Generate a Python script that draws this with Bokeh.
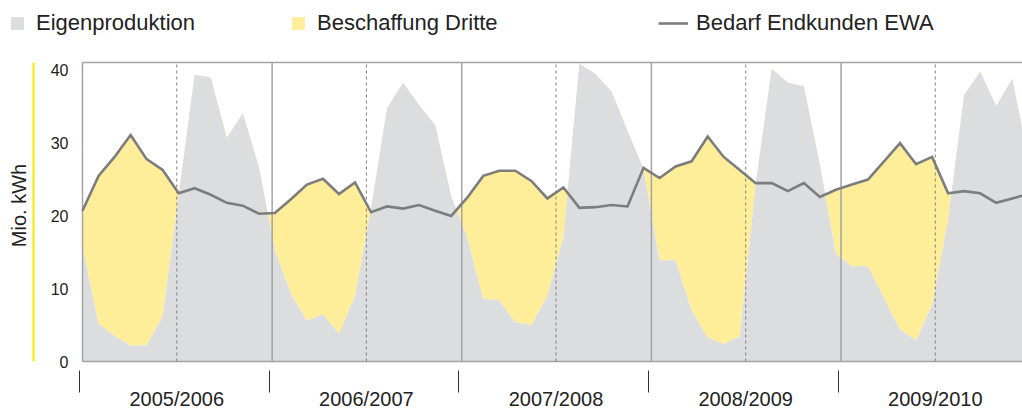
from bokeh.plotting import figure
from bokeh.models import (Range1d, LinearAxis, FixedTicker, CustomJSTickFormatter,
                          Legend, LegendItem, BoxAnnotation)
from bokeh.embed import file_html
from bokeh.resources import INLINE

# ---------------- data (Mio. kWh, monthly, Oct..Sep) ----------------
years = ["2005/2006", "2006/2007", "2007/2008", "2008/2009", "2009/2010"]
months = list(range(60))
bedarf = [
    20.7, 25.5, 28.1, 31.1, 27.8, 26.3, 23.1, 23.8, 22.9, 21.8, 21.4, 20.3,
    20.4, 22.3, 24.3, 25.1, 23.0, 24.6, 20.5, 21.3, 21.0, 21.5, 20.7, 20.0,
    22.5, 25.5, 26.2, 26.2, 24.8, 22.4, 23.9, 21.1, 21.2, 21.5, 21.3, 26.6,
    25.2, 26.8, 27.5, 30.9, 28.1, 26.3, 24.5, 24.5, 23.4, 24.5, 22.6, 23.6,
    24.3, 25.0, 27.5, 30.0, 27.1, 28.1, 23.1, 23.4, 23.1, 21.8, 22.4, 23.0]
eigen = [
    15.7, 5.2, 3.5, 2.2, 2.2, 6.2, 22.8, 39.4, 39.0, 30.7, 34.1, 26.8,
    15.3, 9.3, 5.6, 6.5, 3.8, 9.0, 21.0, 34.8, 38.3, 35.2, 32.5, 22.7,
    17.0, 8.6, 8.4, 5.4, 5.0, 9.0, 17.1, 40.9, 39.5, 37.1, 31.7, 26.4,
    13.9, 13.9, 7.0, 3.3, 2.4, 3.4, 24.4, 40.2, 38.3, 37.8, 27.0, 14.8,
    13.1, 13.1, 8.7, 4.4, 2.9, 7.8, 19.5, 36.6, 39.8, 35.1, 38.8, 28.0]
y_ticks = [0, 10, 20, 30, 40]

# ---------------- layout constants ----------------
YEAR_LEN = 11.83
seps = [YEAR_LEN * k for k in range(len(years))]
mids = [s + 5.88 for s in seps]
tick_marks = [s - 0.18 for s in seps]

W, H = 1022, 412
PX = 16.03            # pixels per month
X0 = -82.0 / PX       # frame spans the whole canvas
X1 = X0 + W / PX
TOP = 41.07
PY = 7.28             # pixels per Mio. kWh
Y0 = -(H - 361) / PY
Y1 = Y0 + H / PY
AXIS_X = -4.0 / PX    # value axis 4px left of the first month
AXIS_Y = -1.0 / PY    # category axis 1px below zero

GRAY = "#dcdddf"
YELLOW = "#feee9a"
LINE = "#7d7d7d"
FRAME = "#a3a3a3"
TEXT = "#222222"
FONT = "Liberation Sans"

p = figure(width=W, height=H, output_backend="svg", toolbar_location=None,
           x_range=Range1d(X0, X1), y_range=Range1d(Y0, Y1),
           min_border_left=0, min_border_right=0, min_border_top=0,
           min_border_bottom=0, x_axis_location=None, y_axis_location=None)
p.outline_line_color = None
p.background_fill_color = "white"
p.border_fill_color = "white"
p.grid.visible = False

yellow_r = p.varea(x=months, y1=eigen, y2=bedarf, fill_color=YELLOW)
gray_r = p.varea(x=months, y1=0, y2=eigen, fill_color=GRAY)

# frame borders and year separators
p.segment(x0=[0, 0], y0=[0, TOP], x1=[X1 + 1, X1 + 1], y1=[0, TOP],
          line_color=FRAME, line_width=1.5)
p.segment(x0=seps, y0=0, x1=seps, y1=TOP, line_color=FRAME, line_width=1.5)
p.segment(x0=mids, y0=0, x1=mids, y1=TOP, line_color="#8a8a8a",
          line_width=1.1, line_dash="3 3")

line_r = p.line(months, bedarf, line_color=LINE, line_width=2.6, line_join="miter")

# x axis: year labels centred, year-boundary marks as minor ticks
xaxis = LinearAxis(
    ticker=FixedTicker(ticks=mids, minor_ticks=tick_marks),
    formatter=CustomJSTickFormatter(
        args=dict(labels=years, m0=mids[0], yl=YEAR_LEN),
        code="return labels[Math.round((tick - m0) / yl)]"),
    fixed_location=AXIS_Y,
    axis_line_color=None, major_tick_line_color=None,
    major_tick_in=0, major_tick_out=0,
    minor_tick_in=-30, minor_tick_out=8,
    minor_tick_line_color="#333333", minor_tick_line_width=1,
    major_label_standoff=17,
    major_label_text_font=FONT, major_label_text_font_size="20px",
    major_label_text_color=TEXT)
p.add_layout(xaxis, "below")

# value axis placed inside the frame
yaxis = LinearAxis(
    ticker=FixedTicker(ticks=y_ticks), axis_label="Mio. kWh",
    fixed_location=AXIS_X, bounds=(0, 42.8),
    axis_line_color=None, major_tick_line_color=None, minor_tick_line_color=None,
    major_tick_in=0, major_tick_out=0, major_label_standoff=10,
    major_label_text_font=FONT, major_label_text_font_size="16px",
    major_label_text_color=TEXT,
    axis_label_text_font=FONT, axis_label_text_font_size="20px",
    axis_label_text_font_style="normal", axis_label_text_color=TEXT,
    axis_label_standoff=18)
p.add_layout(yaxis, "left")

# yellow accent bar left of the value axis (screen units relative to frame)
p.add_layout(BoxAnnotation(left=32, right=34, left_units="screen", right_units="screen",
                           bottom=0, top=TOP, fill_color="#ffe500", fill_alpha=1,
                           line_color=None, level="overlay"))

LEG_Y = H - 36        # legend bottom edge 36px below the canvas top


def add_legend(label, rend, x, gw, standoff):
    lg = Legend(items=[LegendItem(label=label, renderers=[rend])],
                location=(x, LEG_Y), orientation="horizontal",
                glyph_width=gw, glyph_height=16, label_height=16,
                label_standoff=standoff, padding=0, margin=0, spacing=0,
                border_line_color=None, background_fill_alpha=0,
                label_text_font=FONT, label_text_font_size="22px",
                label_text_color=TEXT)
    p.add_layout(lg, "center")


add_legend("Eigenproduktion", gray_r, 9, 16, 11)
add_legend("Beschaffung Dritte", yellow_r, 290, 16, 11)
add_legend("Bedarf Endkunden EWA", line_r, 658, 30, 8)

open("out.html", "w").write(file_html(p, INLINE))
